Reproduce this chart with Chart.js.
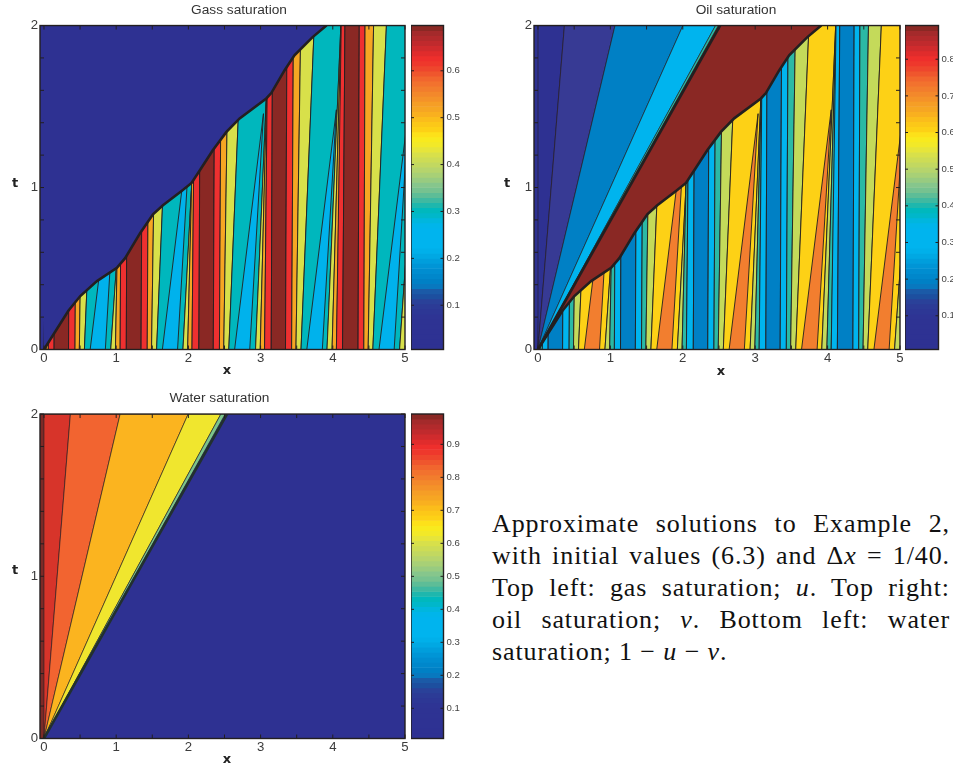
<!DOCTYPE html>
<html>
<head>
<meta charset="utf-8">
<title>Saturation contours</title>
<script src="https://cdn.jsdelivr.net/npm/chart.js@4/dist/chart.umd.min.js"></script>
<style>
    html, body { margin: 0; padding: 0; background: #fff; overflow: hidden; }
    #page { position: relative; width: 953px; height: 763px; overflow: hidden; }
    canvas { position: absolute; }
    .axis-name {
        position: absolute;
        font: bold 13px "DejaVu Sans", sans-serif;
        color: #222;
        transform: translate(-50%, -50%);
    }
    .caption {
        position: absolute;
        left: 492px;
        width: 458px;
        font: 26px/32px "Liberation Serif", serif;
        letter-spacing: 0.9px;
        color: #111;
        white-space: nowrap;
        text-align: justify;
        text-align-last: justify;
    }
    .caption.last { text-align-last: left; }
</style>
</head>
<body>
<div id="page">
    <canvas id="gasChart" width="478" height="380" style="left:0;top:0"></canvas>
    <canvas id="gasBar" width="60" height="380" style="left:411px;top:0"></canvas>
    <canvas id="oilChart" width="484" height="380" style="left:494px;top:0"></canvas>
    <canvas id="oilBar" width="60" height="380" style="left:905px;top:0"></canvas>
    <canvas id="waterChart" width="439" height="375" style="left:0;top:388px"></canvas>
    <canvas id="waterBar" width="60" height="375" style="left:411px;top:388px"></canvas>

    <span class="axis-name" style="left:15px;top:182px">t</span>
    <span class="axis-name" style="left:227px;top:369px">x</span>
    <span class="axis-name" style="left:507px;top:182px">t</span>
    <span class="axis-name" style="left:721px;top:370px">x</span>
    <span class="axis-name" style="left:15px;top:569px">t</span>
    <span class="axis-name" style="left:227px;top:758px">x</span>

    <div class="caption" style="top:508px">Approximate solutions to Example 2,</div>
    <div class="caption" style="top:540px">with initial values (6.3) and Δ<i>x</i> = 1/40.</div>
    <div class="caption" style="top:572px">Top left: gas saturation; <i>u</i>. Top right:</div>
    <div class="caption" style="top:604px">oil saturation; <i>v</i>. Bottom left: water</div>
    <div class="caption last" style="top:636px">saturation; 1 − <i>u</i> − <i>v</i>.</div>
</div>

<script>
const xTicks = [0, 0.5, 1, 1.5, 2, 2.5, 3, 3.5, 4, 4.5, 5];
const tTicks = [0, 0.2, 0.4, 0.6, 0.8, 1, 1.2, 1.4, 1.6, 1.8, 2];

// shock front, shared by the gas and oil panels
const frontX = [0, 0.338, 0.503, 0.734, 1.01, 1.124, 1.331, 1.51, 1.648, 1.906, 2.044, 2.159, 2.338, 2.527, 2.71, 3.079, 3.148, 3.331, 3.469, 3.717, 3.906, 3.97];
const frontT = [0, 0.239, 0.33, 0.422, 0.504, 0.564, 0.718, 0.835, 0.89, 0.979, 1.028, 1.107, 1.23, 1.343, 1.427, 1.55, 1.583, 1.723, 1.816, 1.927, 1.998, 2.04];

// contour lines below the front: x where they leave t=0 and x at t=2.4
const lineBottom = [
    0, 0.03, 0.06, 0.14, 0.34, 0.43, 0.49, 0.56,
    0.925, 0.99, 1.055, 1.14, 1.345, 1.43, 1.49, 1.56,
    1.925, 1.99, 2.05, 2.145, 2.345, 2.43, 2.49, 2.56,
    2.93, 2.995, 3.055, 3.147, 3.345, 3.43, 3.49, 3.56,
    3.92, 3.99, 4.05, 4.135, 4.35, 4.43, 4.49, 4.555,
    4.925, 5.3
];
const lineTop = [
    0.1, 0.14, 0.16, 0.16, 0.37, 0.46, 0.57, 0.78,
    1.29, 1.09, 1.08, 1.16, 1.37, 1.46, 1.57, 1.78,
    2.21, 2.12, 2.1, 2.17, 2.37, 2.46, 2.57, 2.78,
    3.16, 3.13, 3.11, 3.17, 3.37, 3.46, 3.57, 3.78,
    4.15, 4.14, 4.13, 4.175, 4.37, 4.45, 4.58, 4.78,
    5.3, 5.5
];
// kind of band between two neighbouring lines
const bandKinds = [
    0, 1, 2, 3, 2, 1, 0, 4,
    0, 1, 2, 3, 2, 1, 0, 4,
    0, 1, 2, 3, 2, 1, 0, 4,
    0, 1, 2, 3, 2, 1, 0, 4,
    0, 1, 2, 3, 2, 1, 0, 4,
    0
];

// narrow wedges that grow out of the wide bands
const wedgeLeft = [0.64, 1.64, 2.64, 3.64, 4.64];
const wedgeRight = [0.85, 1.85, 2.85, 3.855, 4.85];
const wedgeTipX = [1.04, 2.04, 3.04, 4.05, 5.05];
const wedgeTipT = [1.46, 1.46, 1.456, 1.48, 1.48];

// rays from the origin, x where they reach t=2
const oilFan = [0, 0.365, 1.064, 2.002, 2.452, 2.49];
const oilFanEdge = 2.515;
const waterFan = [0, 0.366, 1.055, 1.997, 2.45, 2.51];
const waterFanEdge = 2.535;

const gasBarTicks = [0.1, 0.2, 0.3, 0.4, 0.5, 0.6];
const oilBarTicks = [0.1, 0.2, 0.3, 0.4, 0.5, 0.6, 0.7, 0.8];
const waterBarTicks = [0.1, 0.2, 0.3, 0.4, 0.5, 0.6, 0.7, 0.8, 0.9];
const gasRange = [0.0056, 0.6966];
const oilRange = [0.008, 0.892];
const waterRange = [0.0085, 0.992];

const colormap = [
    '#2e3192', '#2e3192', '#2e3293', '#2e3293', '#2e3393', '#2e3393', '#2e3494', '#2d3795',
    '#2c3b96', '#2a4199', '#1d4f9f', '#1b5aa7', '#0878bf', '#0080c5', '#0087cb', '#008dd0',
    '#0095d6', '#009edc', '#00a8e3', '#00b0ea', '#00b4ee', '#00b4ee', '#00b4ee', '#00b4ee',
    '#00b5ea', '#00b6de', '#00b7ca', '#00b8bd', '#1eb7ad', '#3fb9a1', '#5dbd97', '#76c290',
    '#86c68c', '#98cb80', '#a8d076', '#b6d46c', '#c2d860', '#cddc55', '#d8e04a', '#e6e53a',
    '#f2e928', '#f8ea1e', '#fde11a', '#fdd116', '#fcc818', '#fbbd1b', '#f9b01f', '#f6a623',
    '#f59e26', '#f49229', '#f3882b', '#f27d2d', '#f2722e', '#f1662e', '#ef562d', '#ee462d',
    '#ee382c', '#ee2f2c', '#e02c2c', '#d02b2d', '#c02a2d', '#b22a2c', '#a42a2b', '#8a2824'
];

const NAVY = '#2e3192';
const BROWN = '#8a2824';
const INK = '#231f20';
const gasColors = ['#d8e04a', '#f6a623', '#ee3030', BROWN, '#00b7bd'];
const oilColors = ['#c4da5a', '#2bb9a5', '#00b4ee', '#0080c5', '#fdd116'];
const gasWedge = '#00b2ec';
const oilWedge = '#f27e2f';
const oilFanColors = [NAVY, '#373a94', '#0080c5', '#00b4ee', '#2bb9a5'];
const waterFanColors = ['#d7342a', '#f26430', '#fbb41f', '#f0e62e', '#7cc58c'];

const X_MIN = -0.055;

function shape(points, color, stroke, width) {
    return {
        data: points,
        showLine: true,
        fill: color ? 'shape' : false,
        backgroundColor: color || 'transparent',
        borderColor: stroke || 'transparent',
        borderWidth: width || 0,
        pointRadius: 0,
        tension: 0
    };
}

function closed(points) {
    return points.concat([points[0]]);
}

function frontPoints() {
    return frontX.map((x, i) => ({ x: x, y: frontT[i] }));
}

function backgroundSet() {
    return shape(closed([
        { x: X_MIN, y: 0 }, { x: X_MIN, y: 2 }, { x: 5, y: 2 }, { x: 5, y: 0 }
    ]), NAVY);
}

function bandSets(colors, wedgeColor) {
    const sets = [];
    bandKinds.forEach((kind, i) => {
        sets.push(shape(closed([
            { x: lineBottom[i], y: 0 },
            { x: lineTop[i], y: 2.4 },
            { x: lineTop[i + 1], y: 2.4 },
            { x: lineBottom[i + 1], y: 0 }
        ]), colors[kind], INK, 0.9));
    });
    wedgeLeft.forEach((left, i) => {
        sets.push(shape(closed([
            { x: left, y: 0 },
            { x: wedgeTipX[i], y: wedgeTipT[i] },
            { x: wedgeRight[i], y: 0 }
        ]), wedgeColor, INK, 0.9));
    });
    return sets;
}

function aboveFront(color) {
    const last = frontX[frontX.length - 1];
    return shape(closed(frontPoints().concat([{ x: last, y: 2.4 }, { x: 0, y: 2.4 }])), color);
}

function fanSets(fan, colors) {
    return colors.map((color, i) => shape(closed([
        { x: 0, y: 0 }, { x: fan[i], y: 2 }, { x: fan[i + 1], y: 2 }
    ]), color, INK, 0.6));
}

// inward ticks and the box around a panel
const framePlugin = {
    id: 'frame',
    afterDraw(chart, args, opts) {
        const { ctx, chartArea: a } = chart;
        ctx.save();
        ctx.strokeStyle = INK;
        ctx.lineWidth = opts.tickWidth;
        ctx.beginPath();
        (opts.xScale ? chart.scales[opts.xScale].ticks : []).forEach(t => {
            const px = chart.scales[opts.xScale].getPixelForValue(t.value);
            ctx.moveTo(px, a.bottom); ctx.lineTo(px, a.bottom - opts.tick);
            ctx.moveTo(px, a.top); ctx.lineTo(px, a.top + opts.tick);
        });
        chart.scales[opts.yScale].ticks.forEach(t => {
            const py = chart.scales[opts.yScale].getPixelForValue(t.value);
            ctx.moveTo(a.left, py); ctx.lineTo(a.left + opts.tick, py);
            ctx.moveTo(a.right, py); ctx.lineTo(a.right - opts.tick, py);
        });
        ctx.stroke();
        ctx.lineWidth = opts.boxWidth;
        ctx.strokeRect(a.left, a.top, a.right - a.left, a.bottom - a.top);
        ctx.restore();
    }
};

function wholeLabel(value) {
    return Number.isInteger(value) ? String(value) : '';
}

function drawPanel(id, titleText, sets, rightPad, titleGap, axisHeight) {
    new Chart(document.getElementById(id), {
        type: 'scatter',
        // first dataset is painted last, the lists are written bottom to top
        data: { datasets: sets.slice().reverse() },
        plugins: [framePlugin],
        options: {
            responsive: false,
            animation: false,
            events: [],
            plugins: {
                legend: { display: false },
                tooltip: { enabled: false },
                title: {
                    display: true,
                    text: titleText,
                    color: '#333',
                    font: { family: '"Liberation Sans"', size: 13.7, weight: 'normal' },
                    padding: { top: 2, bottom: titleGap }
                },
                frame: { xScale: 'x', yScale: 'y', tick: 4, tickWidth: 1, boxWidth: 1.4 }
            },
            scales: {
                x: {
                    type: 'linear',
                    min: X_MIN,
                    max: 5,
                    grid: { display: false, drawTicks: false },
                    border: { display: false },
                    afterBuildTicks: s => { s.ticks = xTicks.map(v => ({ value: v })); },
                    afterFit: s => { s.height = axisHeight; },
                    ticks: {
                        autoSkip: false,
                        maxRotation: 0,
                        padding: 1,
                        color: '#3c3c3c',
                        font: { family: '"Liberation Sans"', size: 13.2 },
                        callback: wholeLabel
                    }
                },
                y: {
                    type: 'linear',
                    min: 0,
                    max: 2,
                    grid: { display: false, drawTicks: false },
                    border: { display: false },
                    afterBuildTicks: s => { s.ticks = tTicks.map(v => ({ value: v })); },
                    afterFit: s => { s.width = 40; },
                    ticks: {
                        autoSkip: false,
                        padding: 2,
                        color: '#3c3c3c',
                        font: { family: '"Liberation Sans"', size: 13.2 },
                        callback: wholeLabel
                    }
                },
                // empty axis, keeps room for the colorbar while the title stays centred on the canvas
                spare: {
                    axis: 'y',
                    position: 'right',
                    grid: { display: false, drawTicks: false },
                    border: { display: false },
                    ticks: { display: false },
                    afterFit: s => { s.width = rightPad; }
                }
            }
        }
    });
}

function drawColorbar(id, range, barTicks, top, bottom, barWidth) {
    new Chart(document.getElementById(id), {
        type: 'bar',
        data: {
            labels: colormap,
            datasets: [{
                data: colormap.map(() => 1),
                backgroundColor: colormap,
                barPercentage: 1,
                categoryPercentage: 1,
                xAxisID: 'x',
                yAxisID: 'cells'
            }]
        },
        plugins: [framePlugin],
        options: {
            indexAxis: 'y',
            responsive: false,
            animation: false,
            events: [],
            layout: { padding: { top: top, bottom: bottom } },
            plugins: {
                legend: { display: false },
                tooltip: { enabled: false },
                frame: { yScale: 'value', tick: 3, tickWidth: 1, boxWidth: 1.4 }
            },
            scales: {
                x: { display: false, min: 0, max: 1 },
                cells: { axis: 'y', type: 'category', display: false, reverse: true },
                value: {
                    axis: 'y',
                    type: 'linear',
                    position: 'right',
                    offset: false,
                    min: range[0],
                    max: range[1],
                    grid: { display: false, drawTicks: false },
                    border: { display: false },
                    afterBuildTicks: s => { s.ticks = barTicks.map(v => ({ value: v })); },
                    afterFit: s => { s.width = s.chart.width - barWidth; },
                    ticks: {
                        autoSkip: false,
                        padding: 3,
                        color: '#444',
                        font: { family: '"Liberation Sans"', size: 9.6 },
                        callback: v => v.toFixed(1)
                    }
                }
            }
        }
    });
}

const frontLine = () => shape(frontPoints(), null, INK, 2.6);

drawPanel('gasChart', 'Gass saturation', [
    backgroundSet(),
    ...bandSets(gasColors, gasWedge),
    aboveFront(NAVY),
    frontLine()
], 73, 7.1, 30.5);

drawPanel('oilChart', 'Oil saturation', [
    backgroundSet(),
    ...bandSets(oilColors, oilWedge),
    aboveFront(BROWN),
    frontLine(),
    ...fanSets(oilFan, oilFanColors),
    shape([{ x: 0, y: 0 }, { x: oilFanEdge, y: 2 }], null, INK, 2.7)
], 78, 7.1, 30.5);

drawPanel('waterChart', 'Water saturation', [
    backgroundSet(),
    shape(closed([{ x: X_MIN, y: 0 }, { x: X_MIN, y: 2 }, { x: 0, y: 2 }, { x: 0, y: 0 }]), '#7d2a26'),
    ...fanSets(waterFan, waterFanColors),
    shape([{ x: 0, y: 0 }, { x: waterFanEdge, y: 2 }], null, '#22302f', 2.6)
], 34, 7.6, 24.5);

drawColorbar('gasBar', gasRange, gasBarTicks, 25.5, 30.5, 32.5);
drawColorbar('oilBar', oilRange, oilBarTicks, 25.5, 30.5, 33.5);
drawColorbar('waterBar', waterRange, waterBarTicks, 26, 24.5, 32.5);
</script>
</body>
</html>
